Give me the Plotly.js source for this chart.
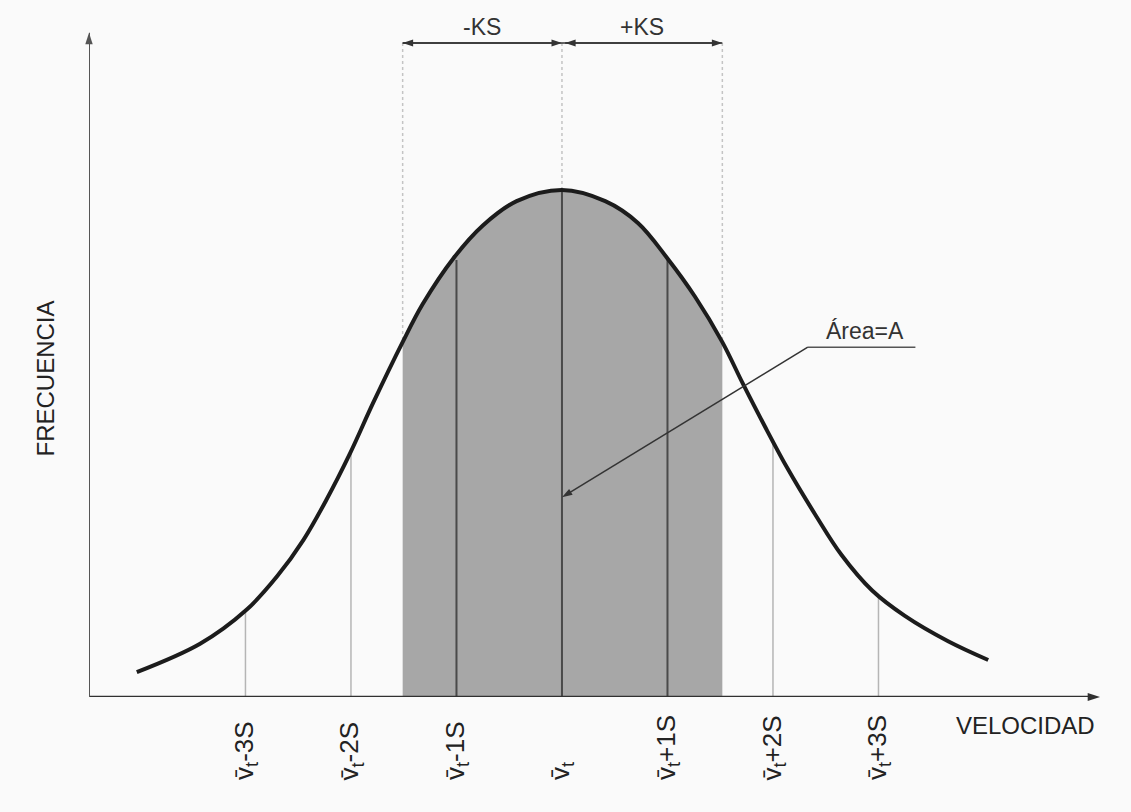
<!DOCTYPE html>
<html>
<head>
<meta charset="utf-8">
<script src="https://cdn.plot.ly/plotly-3.0.1.min.js"></script>
<style>
  html, body { margin: 0; padding: 0; background: #fafafa; }
  #chart { width: 1131px; height: 812px; }
</style>
</head>
<body>
<div id="chart"></div>
<script>
// ---- Data (x in units of S from the mean, y = relative frequency, peak = 1) ----
const curveX = [-4.03, -3.43, -2.99, -2.70, -2.45, -2.23, -2.01, -1.79, -1.51, -1.32, -1.03, -0.75, -0.43, 0.00,
                 0.41, 0.72, 1.00, 1.26, 1.52, 1.71, 1.92, 2.14, 2.40, 2.65, 2.94, 3.25, 3.66, 4.04];
const curveY = [0.049, 0.105, 0.172, 0.238, 0.310, 0.390, 0.480, 0.580, 0.700, 0.775, 0.865, 0.930, 0.978, 1.000,
                0.978, 0.935, 0.865, 0.790, 0.700, 0.620, 0.535, 0.450, 0.360, 0.280, 0.210, 0.160, 0.110, 0.073];

const sigmaSteps = [-3, -2, -1, 0, 1, 2, 3];
const sigmaLabels = ['v\u0304<sub>t</sub>-3S', 'v\u0304<sub>t</sub>-2S', 'v\u0304<sub>t</sub>-1S', 'v\u0304<sub>t</sub>',
                     'v\u0304<sub>t</sub>+1S', 'v\u0304<sub>t</sub>+2S', 'v\u0304<sub>t</sub>+3S'];
const sigmaLineTops = [0.172, 0.480, 0.862, 1.000, 0.865, 0.505, 0.200];

const ksLower = -1.51;   // -KS
const ksUpper = 1.52;    // +KS
const ksLabels = ['-KS', '+KS'];
const areaLabel = 'Área=A';
const xTitle = 'VELOCIDAD';
const yTitle = 'FRECUENCIA';

// ---- Layout constants ----
const FONT = 'Liberation Sans, Arial, sans-serif';
const xMin = -4.483, xMax = 5.147;
const yMax = 1.3156;
const bracketY = 1.29;
const ink = '#1c1c1c';

// shaded region points (subset of the curve inside [-KS, +KS])
const shadeX = [], shadeY = [];
curveX.forEach((x, i) => { if (x >= ksLower - 1e-9 && x <= ksUpper + 1e-9) { shadeX.push(x); shadeY.push(curveY[i]); } });

const traces = [];
function arrowTrace(xs, ys, color, width, headSize) {
  return {
    x: xs, y: ys, type: 'scatter', mode: 'lines+markers', cliponaxis: false,
    line: { color: color, width: width },
    marker: { symbol: 'arrow', size: headSize, angleref: 'previous', color: color, line: { width: 0 } },
    hoverinfo: 'skip'
  };
}
// shaded area
traces.push({
  x: shadeX, y: shadeY, type: 'scatter', mode: 'lines',
  line: { width: 0, shape: 'spline', smoothing: 1 },
  fill: 'tozeroy', fillcolor: '#a7a7a7', hoverinfo: 'skip'
});
// vertical sigma lines up to the curve
sigmaSteps.forEach((s, i) => {
  const inside = s >= ksLower && s <= ksUpper;
  traces.push({
    x: [s, s], y: [0, sigmaLineTops[i]], type: 'scatter', mode: 'lines',
    line: { color: inside ? '#4a4a4a' : '#b5b5b5', width: inside ? 2 : 1.5 }, hoverinfo: 'skip'
  });
});
// KS extension lines (from bracket down to curve) and mean line above curve
[ksLower, ksUpper].forEach((k) => {
  traces.push({
    x: [k, k], y: [bracketY, curveY[curveX.indexOf(k)]], type: 'scatter', mode: 'lines', cliponaxis: false,
    line: { color: '#c4c4c4', width: 1.5, dash: 'dot' }, hoverinfo: 'skip'
  });
});
traces.push({
  x: [0, 0], y: [1.0, bracketY], type: 'scatter', mode: 'lines', cliponaxis: false,
  line: { color: '#c4c4c4', width: 1.5, dash: 'dot' }, hoverinfo: 'skip'
});
// bell curve
traces.push({
  x: curveX, y: curveY, type: 'scatter', mode: 'lines',
  line: { color: ink, width: 4, shape: 'spline', smoothing: 1 }, hoverinfo: 'skip'
});
// axes with arrowheads
traces.push(arrowTrace([xMin, 5.10], [0, 0], '#303030', 2.5, 13));
traces.push(arrowTrace([xMin, xMin], [0, 1.31], '#555555', 2, 12));
// KS brackets (double-headed)
traces.push(arrowTrace([0, ksLower, 0], [bracketY, bracketY, bracketY], '#333333', 1.5, 11));
traces.push(arrowTrace([0, ksUpper, 0.03], [bracketY, bracketY, bracketY], '#333333', 1.5, 11));
// Área underline and leader arrow
traces.push({
  x: [3.35, 2.33], y: [0.69, 0.69], type: 'scatter', mode: 'lines',
  line: { color: '#555', width: 1.5 }, hoverinfo: 'skip'
});
traces.push(arrowTrace([2.33, 0], [0.69, 0.394], '#333333', 1.5, 11));

const annotations = [];
annotations.push({ x: ksLower / 2, y: bracketY, xref: 'x', yref: 'y', xanchor: 'center', yanchor: 'bottom', yshift: 1,
  text: ksLabels[0], showarrow: false, font: { family: FONT, size: 23, color: '#333' } });
annotations.push({ x: ksUpper / 2, y: bracketY, xref: 'x', yref: 'y', xanchor: 'center', yanchor: 'bottom', yshift: 1,
  text: ksLabels[1], showarrow: false, font: { family: FONT, size: 23, color: '#333' } });
annotations.push({ x: 2.87, y: 0.69, xref: 'x', yref: 'y', xanchor: 'center', yanchor: 'bottom', yshift: 1,
  text: areaLabel, showarrow: false, font: { family: FONT, size: 23, color: '#333' } });
// sigma tick labels (rotated)
sigmaSteps.forEach((s, i) => {
  annotations.push({ x: s, y: -0.1274, xref: 'x', yref: 'paper', xanchor: 'center', yanchor: 'bottom',
    textangle: -90, text: sigmaLabels[i], showarrow: false, font: { family: FONT, size: 26, color: '#222' } });
});
// axis titles
annotations.push({ x: 0.922, y: -0.042, xref: 'paper', yref: 'paper', xanchor: 'center', yanchor: 'middle',
  text: xTitle, showarrow: false, font: { family: FONT, size: 24, color: '#222' } });
annotations.push({ x: -0.043, y: 0.478, xref: 'paper', yref: 'paper', xanchor: 'center', yanchor: 'middle',
  text: yTitle, showarrow: false, textangle: -90, font: { family: FONT, size: 24, color: '#222' } });

const layout = {
  width: 1131, height: 812,
  margin: { l: 89, r: 26, t: 30, b: 115 },
  paper_bgcolor: '#fafafa', plot_bgcolor: '#fafafa',
  showlegend: false,
  xaxis: { range: [xMin, xMax], visible: false, fixedrange: true },
  yaxis: { range: [0, yMax], visible: false, fixedrange: true },
  annotations: annotations
};

Plotly.newPlot('chart', traces, layout, { displayModeBar: false, staticPlot: true });
</script>
</body>
</html>
